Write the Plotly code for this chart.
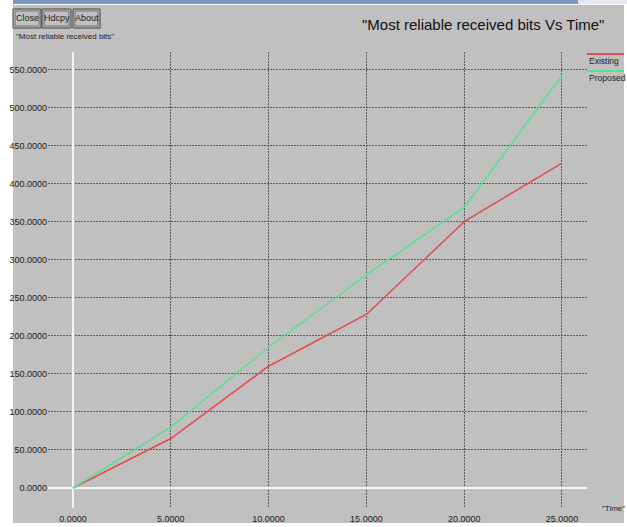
import plotly.graph_objects as go

# ---- data ----
time = [0, 5, 10, 15, 20, 25]
existing = [0, 65, 160, 228, 350, 427]
proposed = [0, 80, 185, 280, 369, 542]
x_ticks = [0, 5, 10, 15, 20, 25]
y_ticks = [0, 50, 100, 150, 200, 250, 300, 350, 400, 450, 500, 550]
series_names = ["Existing", "Proposed"]
series_colors = ["#e84a4a", "#55e08c"]
buttons = ["Close", "Hdcpy", "About"]

FONT = "Liberation Sans, Arial, sans-serif"
BG = "#c0c0c0"

W, H = 627, 527
L, R, T, B = 48, 40, 52, 19
pw, ph = W - L - R, H - T - B


def px(X):
    return (X - L) / pw


def py(Y):
    return (H - B - Y) / ph


fig = go.Figure()
for name, ys, col in zip(series_names, [existing, proposed], series_colors):
    fig.add_trace(go.Scatter(x=time, y=ys, mode="lines", name=name,
                             line=dict(color=col, width=1.5), showlegend=False))

shapes = []
# gray window background
shapes.append(dict(type="rect", xref="paper", yref="paper", x0=px(13), x1=px(624),
                   y0=py(523), y1=py(5), fillcolor=BG, line=dict(width=0), layer="below"))
# top title bar strip
shapes.append(dict(type="rect", xref="paper", yref="paper", x0=px(13), x1=px(578),
                   y0=py(4), y1=py(0), fillcolor="#7f96c8", line=dict(width=0), layer="below"))
shapes.append(dict(type="rect", xref="paper", yref="paper", x0=px(578), x1=px(627),
                   y0=py(4), y1=py(0), fillcolor="#e4e8f0", line=dict(width=0), layer="below"))

annotations = []
# buttons
bx = [(13, 41), (42, 71), (73, 100)]
for label, (a, b) in zip(buttons, bx):
    shapes.append(dict(type="rect", xref="paper", yref="paper", x0=px(a), x1=px(b),
                       y0=py(28), y1=py(9), fillcolor=BG, line=dict(color="#404040", width=1)))
    shapes.append(dict(type="rect", xref="paper", yref="paper", x0=px(a + 2), x1=px(b - 2),
                       y0=py(26), y1=py(11), fillcolor=BG, line=dict(color="#707070", width=1)))
    annotations.append(dict(x=px((a + b) / 2), y=py(18.5), xref="paper", yref="paper",
                            text=label, showarrow=False, xanchor="center", yanchor="middle",
                            font=dict(family=FONT, size=9, color="#202020")))

annotations.append(dict(x=px(14), y=py(37), xref="paper", yref="paper",
                        text='"Most reliable received bits"', showarrow=False,
                        xanchor="left", yanchor="middle",
                        font=dict(family=FONT, size=8, color="#202020")))
annotations.append(dict(x=px(483), y=py(24), xref="paper", yref="paper",
                        text='"Most reliable received bits Vs Time"', showarrow=False,
                        xanchor="center", yanchor="middle",
                        font=dict(family=FONT, size=15, color="#101010")))
annotations.append(dict(x=px(613), y=py(508), xref="paper", yref="paper",
                        text='"Time"', showarrow=False, xanchor="center", yanchor="middle",
                        font=dict(family=FONT, size=8, color="#202020")))

# legend (line above label)
for i, (name, col) in enumerate(zip(series_names, series_colors)):
    ly = 54 + 17 * i
    shapes.append(dict(type="line", xref="paper", yref="paper", x0=px(587), x1=px(624),
                       y0=py(ly), y1=py(ly), line=dict(color=col, width=2)))
    annotations.append(dict(x=px(587), y=py(ly + 7), xref="paper", yref="paper",
                            text=name, showarrow=False, xanchor="left", yanchor="middle",
                            font=dict(family=FONT, size=8.5, color="#202020")))

grid = dict(showgrid=True, gridcolor="#5a5a5a", griddash="2px,1px", gridwidth=1,
            zeroline=True, zerolinecolor="#f4f4f4", zerolinewidth=2,
            showline=False, ticks="", tickformat=".4f", automargin=False,
            tickfont=dict(family=FONT, size=9, color="#202020"))

fig.update_layout(
    width=W, height=H,
    margin=dict(l=L, r=R, t=T, b=B, pad=0, autoexpand=False),
    paper_bgcolor="white", plot_bgcolor=BG,
    shapes=shapes, annotations=annotations,
    xaxis=dict(range=[-1.278, 26.28], tickvals=x_ticks, ticklabelstandoff=4, **grid),
    yaxis=dict(range=[-26.3, 573], tickvals=y_ticks, ticklabelstandoff=0, **grid),
    showlegend=False,
)

fig.write_html("out.html", config={"displayModeBar": False},
               post_script="document.body.style.margin='0';document.body.style.overflow='hidden';")
